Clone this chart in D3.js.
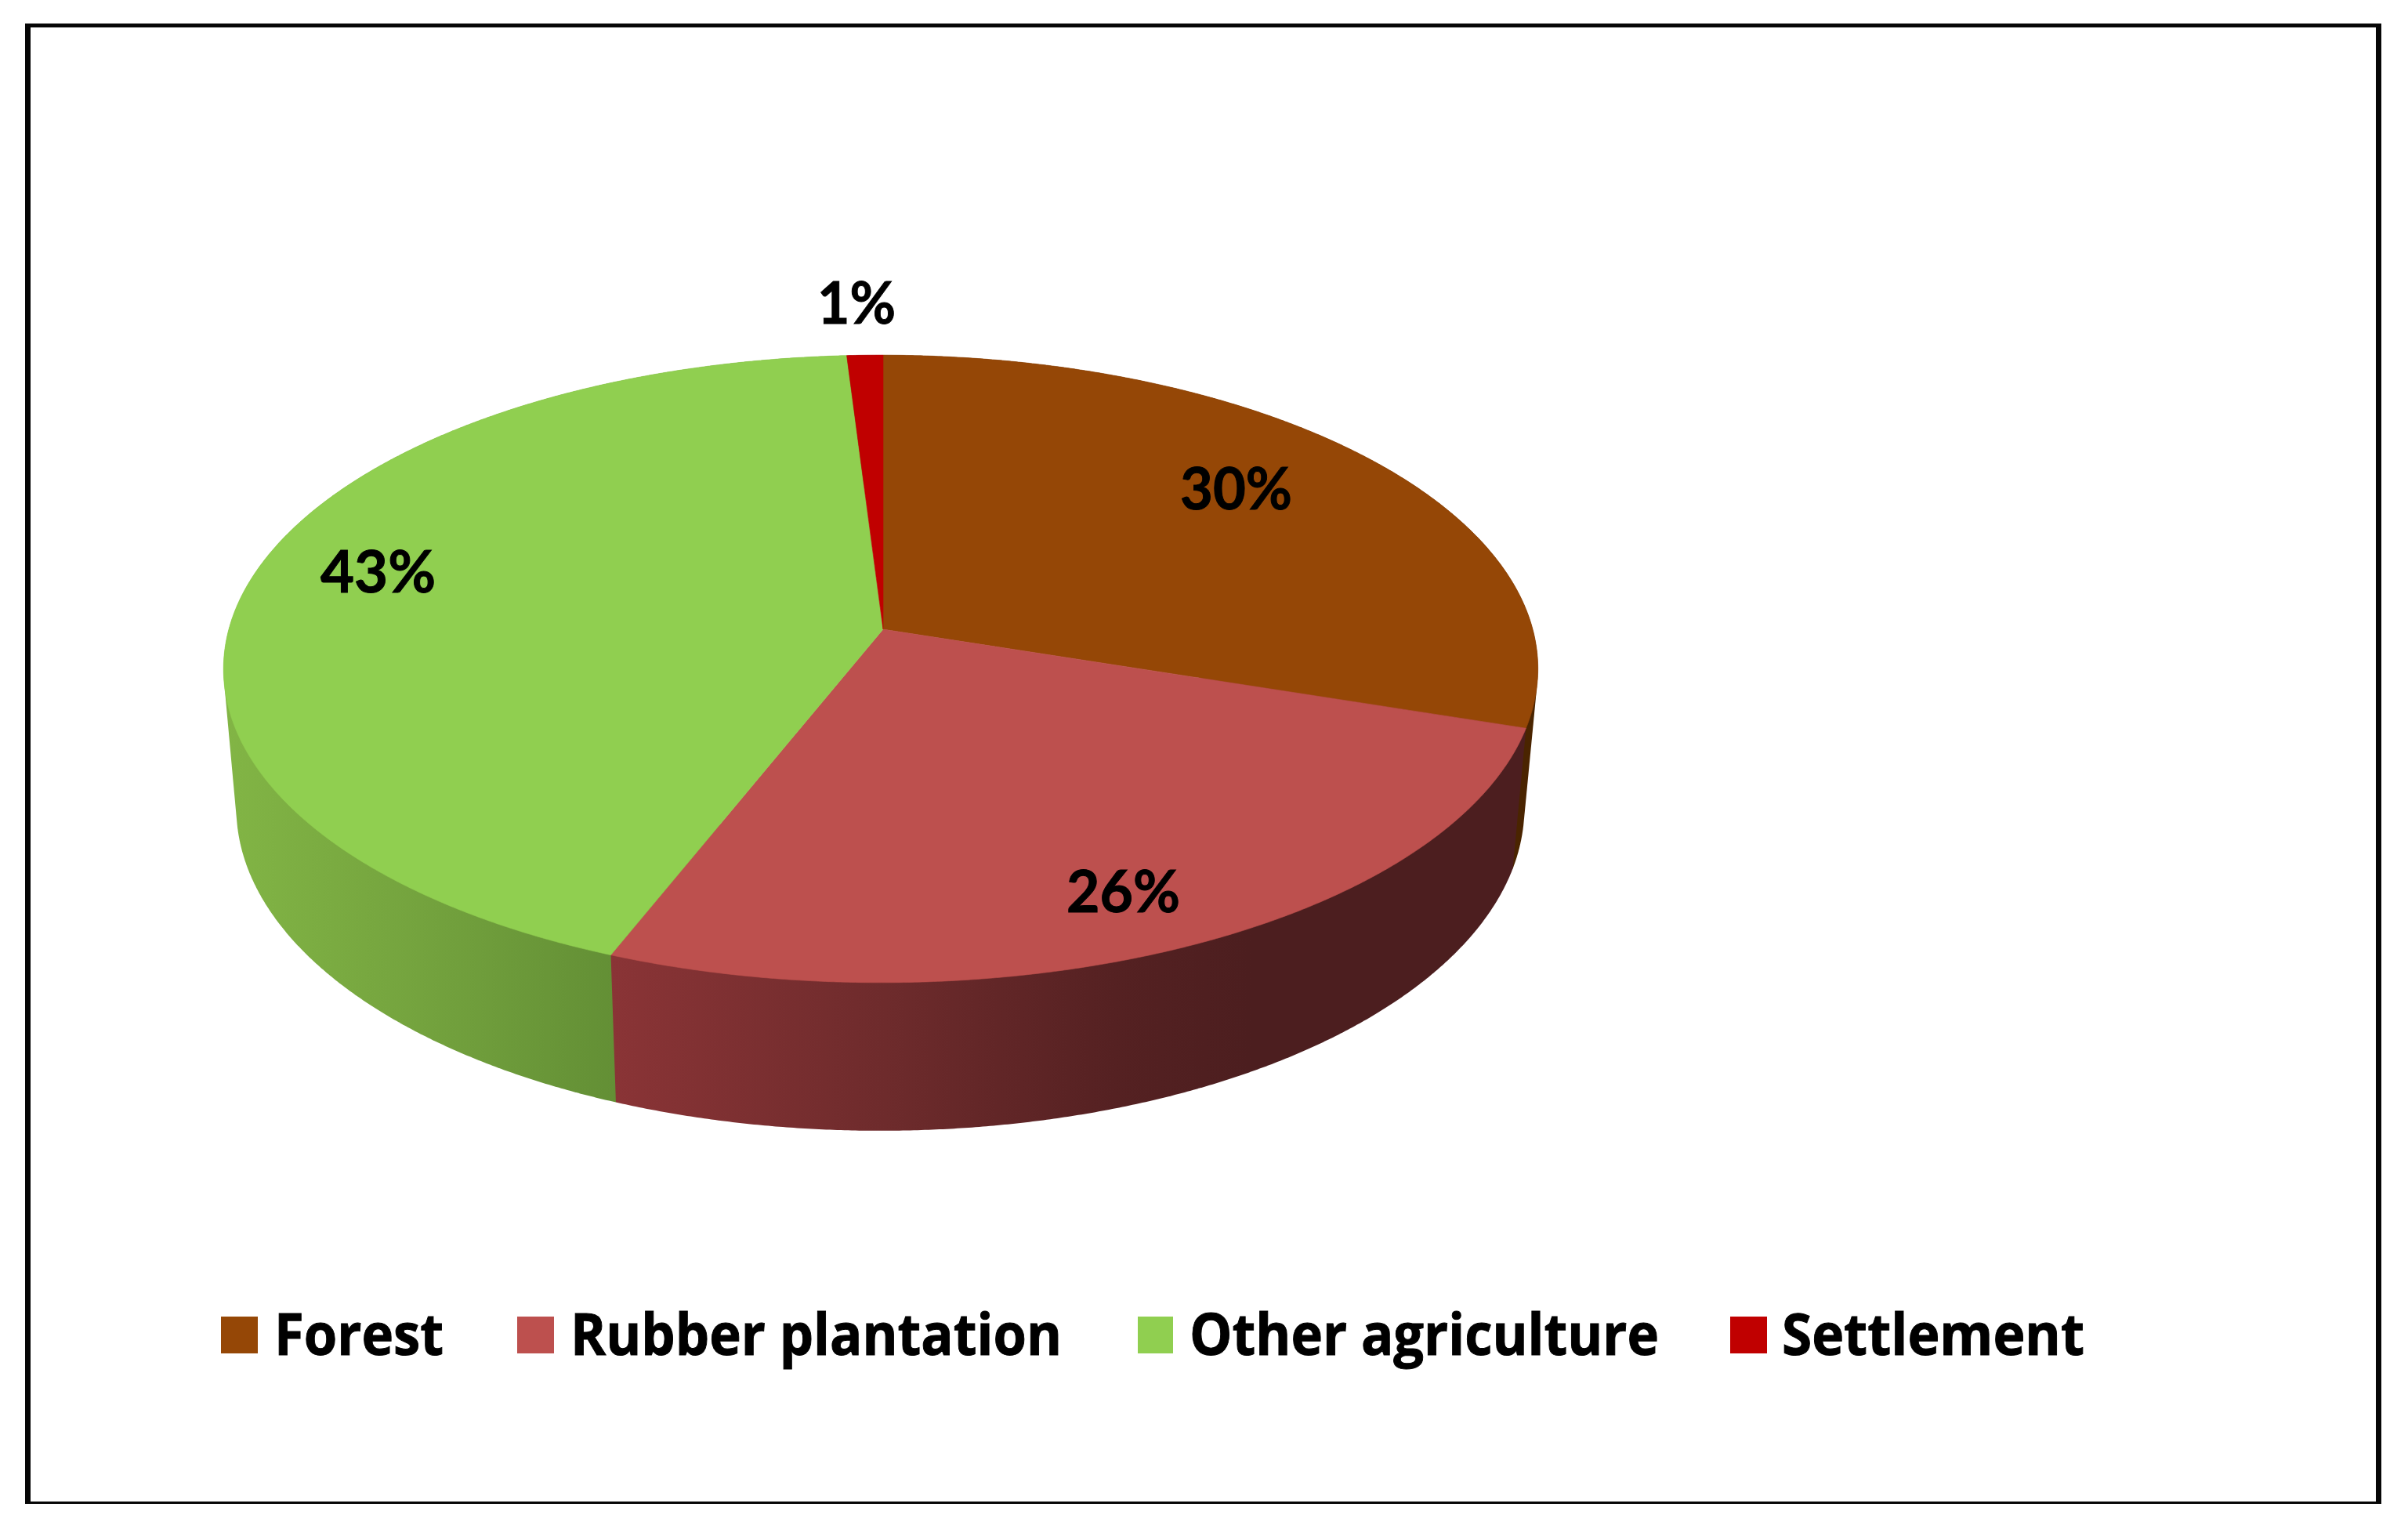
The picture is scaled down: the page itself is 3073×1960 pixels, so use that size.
<!DOCTYPE html>
<html><head><meta charset="utf-8">
<script src="https://cdn.jsdelivr.net/npm/d3@7/dist/d3.min.js"></script>
<style>html,body{margin:0;padding:0;background:#fff}svg{display:block}</style>
</head><body><svg id="c" width="3073" height="1960"></svg>
<script>
const categories = ["Forest","Rubber plantation","Other agriculture","Settlement"];
const values = [30,26,43,1];
const labels = ["30%","26%","43%","1%"];
const topColors = ["#954706","#bd504e","#90cf50","#c00000"];
const sideStops = [
  [[0,"#4a2400"],[1,"#4a2400"]],
  [[0,"#8a3436"],[0.3,"#6e2b2c"],[0.55,"#552122"],[0.7,"#4c1e1f"],[1,"#4c1e1f"]],
  [[0,"#82b545"],[0.5,"#74a33e"],[1,"#638f35"]],
  [[0,"#600000"],[1,"#600000"]]
];
// layout
const W=3073,H=1960;
const apex={x:1127,y:803}, A=394,B=832,k=0.1261,m=-0.0036;
const labelBoxes=[[1506,1649,650],[1361,1506,1164],[409,556,756],[1043,1143,413]];
const legendSw=[[282,329],[660,707],[1452,1497],[2208,2255]];
const legendTx=[[350,566],[728,1355],[1518,2117],[2274,2660]];
const frame=[[32,30,3007,5],[32,30,7,1889],[3032,30,7,1889],[32,1916,3007,3]];

const svg=d3.select("#c");
svg.append("rect").attr("width",W).attr("height",H).attr("fill","#fff");

const pie=d3.pie().sort(null).value(d=>d);
const arcs=pie(values);
function proj(t){
  const u=Math.sin(t), s=-Math.cos(t), den=1-k*s-m*u;
  return [apex.x+B*u/den, apex.y+A*s/den];
}
function lower(p){ // same rim on the lower face of the disc
  return [p[0]*0.98+22, p[1]+189+0.03*(p[1]-1254)];
}
const line=d3.line();
function rim(a0,a1){
  const n=Math.max(2,Math.ceil((a1-a0)/0.005));
  return d3.range(n+1).map(i=>proj(a0+(a1-a0)*i/n));
}
const defs=svg.append("defs");
// sides: each is the hull swept between the two rims, later layers cover the hidden parts
[3,0,2,1].forEach(i=>{
  const a=arcs[i];
  const pts=rim(a.startAngle,a.endAngle);
  const hull=d3.polygonHull(pts.concat(pts.map(lower)));
  const ex=d3.extent(hull,p=>p[0]);
  const id="g"+i;
  const g=defs.append("linearGradient").attr("id",id).attr("gradientUnits","userSpaceOnUse")
    .attr("x1",ex[0]).attr("x2",i===2?lower(proj(a.startAngle))[0]:ex[1]).attr("y1",0).attr("y2",0);
  sideStops[i].forEach(s=>g.append("stop").attr("offset",s[0]).attr("stop-color",s[1]));
  svg.append("path").attr("d",line(hull)+"Z").attr("fill",`url(#${id})`);
});
// top faces
arcs.forEach((a,i)=>{
  const pts=[[apex.x,apex.y]].concat(rim(a.startAngle,a.endAngle));
  svg.append("path").attr("d",line(pts)+"Z").attr("fill",topColors[i])
    .attr("stroke",topColors[i]).attr("stroke-width",0.6);
});
// data labels
labels.forEach((t,i)=>{
  const b=labelBoxes[i];
  svg.append("text").attr("x",b[0]).attr("y",b[2]).text(t)
    .attr("font-family","Lato").attr("font-weight",700).attr("font-size",75)
    .attr("textLength",b[1]-b[0]).attr("lengthAdjust","spacingAndGlyphs").attr("fill","#000")
    .attr("stroke","#000").attr("stroke-width",1);
});
// legend
categories.forEach((c,i)=>{
  svg.append("rect").attr("x",legendSw[i][0]).attr("y",1680).attr("width",legendSw[i][1]-legendSw[i][0]).attr("height",47).attr("fill",topColors[i]);
  svg.append("text").attr("x",legendTx[i][0]).attr("y",1729).text(c)
    .attr("font-family","'Open Sans'").attr("font-weight",700).attr("font-size",74)
    .attr("textLength",legendTx[i][1]-legendTx[i][0]).attr("lengthAdjust","spacingAndGlyphs").attr("fill","#000")
    .attr("stroke","#000").attr("stroke-width",1);
});
// frame
frame.forEach(f=>svg.append("rect").attr("x",f[0]).attr("y",f[1]).attr("width",f[2]).attr("height",f[3]).attr("fill","#060606"));
</script></body></html>
